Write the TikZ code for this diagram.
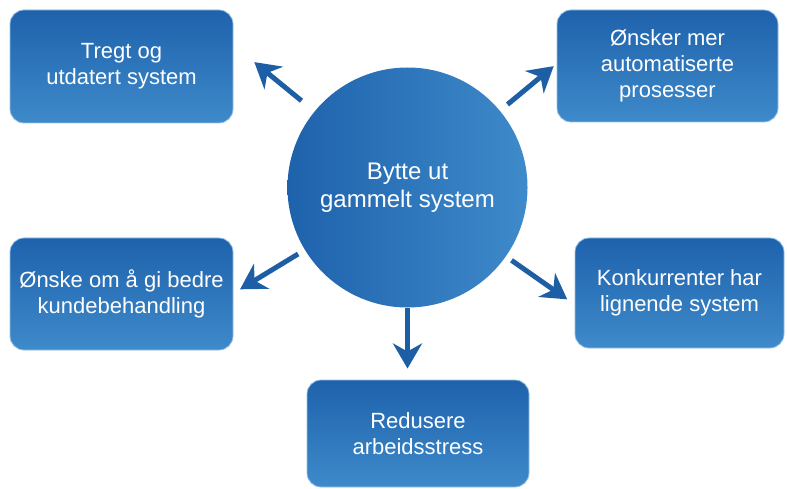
\documentclass[tikz,border=0pt]{standalone}
\usepackage{fontspec}
\setmainfont{Liberation Sans}
\usetikzlibrary{calc,arrows.meta}

\definecolor{deepblue}{RGB}{30,98,172}
\definecolor{lightblue}{RGB}{62,138,202}
\definecolor{arrowblue}{RGB}{30,94,165}
\definecolor{rimblue}{RGB}{150,192,230}

\tikzset{
  topic/.style={rectangle, rounded corners=14pt, top color=deepblue,
    bottom color=lightblue, draw=rimblue, line width=0.8pt, text=white,
    align=center, font=\fontsize{22}{26}\selectfont, inner sep=0pt},
  hubnode/.style={circle, minimum size=240pt, left color=deepblue,
    right color=lightblue, text=white, align=center,
    font=\fontsize{24}{28}\selectfont, inner sep=0pt},
  flow/.style={draw=arrowblue, line width=5pt,
    -{Stealth[length=25pt, width=29pt, inset=8pt]}},
}

\begin{document}
\begin{tikzpicture}[x=1pt,y=1pt]
\useasboundingbox (0,0) rectangle (787,488);

% central idea
\node[hubnode] (hub) at (407.5,300.5) {Bytte ut\\gammelt system};

% surrounding reasons
\node[topic, minimum width=223pt, minimum height=113pt] (slow) at (121.5,421.5)
  {Tregt og\\utdatert system};
\node[topic, minimum width=221pt, minimum height=112pt] (auto) at (667.5,422)
  {Ønsker mer\\automatiserte\\prosesser};
\node[topic, minimum width=223pt, minimum height=112pt] (cust) at (121.5,194)
  {Ønske om å gi bedre\\kundebehandling};
\node[topic, minimum width=209pt, minimum height=110pt] (comp) at (679.5,195)
  {Konkurrenter har\\lignende system};
\node[topic, minimum width=222pt, minimum height=107pt] (stress) at (418,54.5)
  {Redusere\\arbeidsstress};

% radial arrows from the hub towards each reason
\draw[flow] ($(hub.center)+(140.7:137pt)$) -- ($(hub.center)+(140.7:198pt)$);
\draw[flow] ($(hub.center)+(39.7:130pt)$) -- ($(hub.center)+(39.7:190pt)$);
\draw[flow] ($(hub.center)+(211.3:128pt)$) -- ($(hub.center)+(211.3:196pt)$);
\draw[flow] ($(hub.center)+(-35:127pt)$) -- ($(hub.center)+(-35:195pt)$);
\draw[flow] ($(hub.center)+(-90:120pt)$) -- ($(hub.center)+(-90:181pt)$);
\end{tikzpicture}
\end{document}
